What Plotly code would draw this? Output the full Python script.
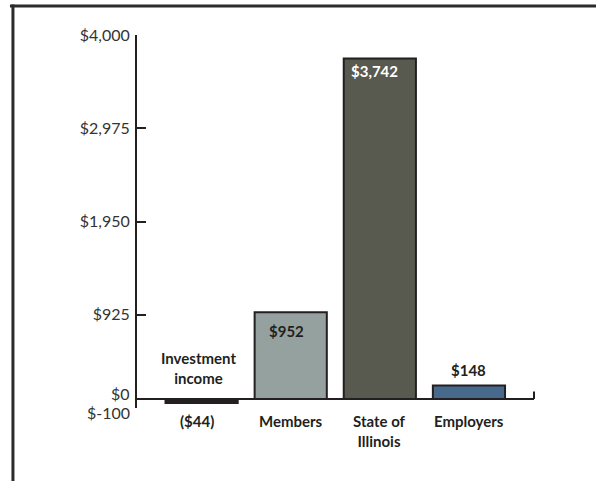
import plotly.graph_objects as go

categories = ["Investment income", "Members", "State of Illinois", "Employers"]
category_text = ["Investment<br>income", "Members", "State of<br>Illinois", "Employers"]
values = [-44, 952, 3742, 148]
value_labels = ["($44)", "$952", "$3,742", "$148"]
bar_colors = ["#231f20", "#95a19e", "#585a50", "#476a8c"]
tick_vals = [4000, 2975, 1950, 925, 0, -100]
tick_text = ["$4,000", "$2,975", "$1,950", "$925", "$0", "$-100"]

FONT = "Lato"
DARK = "#231f20"
TICKCOL = "#333333"

fig = go.Figure()
fig.add_trace(go.Bar(
    x=categories, y=values, width=0.81,
    marker=dict(color=bar_colors, line=dict(color=DARK, width=2)),
    hoverinfo="skip",
))

ann = []
# category labels
for i, (c, t) in enumerate(zip(categories, category_text)):
    if i == 0:
        ann.append(dict(x=c, y=0, text=t, showarrow=False, yanchor="bottom",
                        yshift=10, xshift=-3, font=dict(family=FONT, size=15, color=DARK, weight="bold")))
    else:
        ann.append(dict(x=c, y=0, text=t, showarrow=False, yanchor="top",
                        yshift=-11, font=dict(family=FONT, size=15, color=DARK, weight="bold")))
# value labels
ann.append(dict(x=categories[0], y=0, text=value_labels[0], showarrow=False, yanchor="top",
                yshift=-11, xshift=-5, font=dict(family=FONT, size=15, color=DARK, weight="bold")))
ann.append(dict(x=categories[1], y=values[1], text=value_labels[1], showarrow=False, yanchor="top",
                xanchor="left", xshift=-24, yshift=-8, font=dict(family=FONT, size=15, color=DARK, weight="bold")))
ann.append(dict(x=categories[2], y=values[2], text=value_labels[2], showarrow=False, yanchor="top",
                xanchor="left", xshift=-31, yshift=-2, font=dict(family=FONT, size=15, color="white", weight="bold")))
ann.append(dict(x=categories[3], y=values[3], text=value_labels[3], showarrow=False, yanchor="bottom",
                yshift=4, font=dict(family=FONT, size=15, color=DARK, weight="bold")))

# the two lowest tick labels, nudged apart so they do not collide
for v, t, shift in [(tick_vals[4], tick_text[4], 5), (tick_vals[5], tick_text[5], -4)]:
    ann.append(dict(x=0, xref="paper", y=v, yref="y", text=t, showarrow=False,
                    xanchor="right", xshift=-5, yshift=shift,
                    font=dict(family=FONT, size=16, color=TICKCOL)))
axis_text = tick_text[:4] + ["", ""]

shapes = [
    # baseline at zero
    dict(type="line", xref="paper", yref="y", x0=0, x1=1, y0=0, y1=0,
         line=dict(color=DARK, width=2)),
    dict(type="line", xref="paper", yref="y", x0=1, x1=1, y0=0, y1=80,
         line=dict(color=DARK, width=2)),
    # outer frame
    dict(type="line", xref="paper", yref="paper", x0=-0.32, x1=1.2, y0=1.0777, y1=1.0777,
         line=dict(color="#2b2b2b", width=3)),
    dict(type="line", xref="paper", yref="paper", x0=-0.3125, x1=-0.3125, y0=1.082, y1=-0.25,
         line=dict(color="#2b2b2b", width=3)),
]

fig.update_layout(
    width=596, height=481,
    margin=dict(l=137, r=62, t=35, b=73),
    paper_bgcolor="white", plot_bgcolor="white",
    showlegend=False,
    annotations=ann,
    shapes=shapes,
    font=dict(family=FONT, size=15, color=TICKCOL),
    xaxis=dict(range=[-0.725, 3.73], showticklabels=False, showgrid=False,
               zeroline=False, showline=False, ticks=""),
    yaxis=dict(range=[-100, 4000], tickvals=tick_vals, ticktext=axis_text,
               showgrid=False, zeroline=False, showline=True, linecolor=DARK,
               linewidth=2, ticks="inside", ticklen=9, tickwidth=2, tickcolor=DARK,
               ticklabelstandoff=2,
               tickfont=dict(family=FONT, size=16, color=TICKCOL)),
)

fig.write_html("out.html", config={"displayModeBar": False},
               post_script="document.body.style.margin='0';document.body.style.padding='0';")
